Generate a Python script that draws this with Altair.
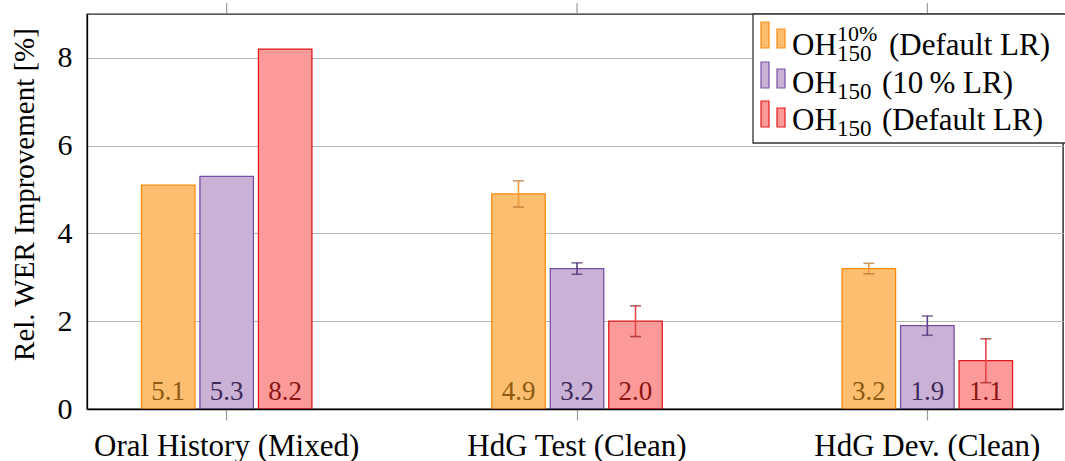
import altair as alt
import pandas as pd

# ---- data -------------------------------------------------------------
groups = ["Oral History (Mixed)", "HdG Test (Clean)", "HdG Dev. (Clean)"]
series = ["OH150 10% (Default LR)", "OH150 (10% LR)", "OH150 (Default LR)"]

improvement = {
    series[0]: [5.1, 4.9, 3.2],
    series[1]: [5.3, 3.2, 1.9],
    series[2]: [8.2, 2.0, 1.1],
}
# half-width of the error bar (no spread reported for the first dataset)
spread = {
    series[0]: [None, 0.30, 0.12],
    series[1]: [None, 0.13, 0.22],
    series[2]: [None, 0.35, 0.50],
}

# ---- styles -----------------------------------------------------------
FONT = "Liberation Serif"
TITLE = "Rel. WER Improvement [%]"
fills = ["#FDBF6F", "#CAB2D6", "#FB9A99"]
strokes = ["#FF8A12", "#7650A6", "#E31A1C"]
err_line = ["#F39A3A", "#5E3F8A", "#E8464A"]
err_cap = ["#B07430", "#4B2F70", "#A11A1A"]
label_col = ["#8E5A10", "#3E2A5C", "#8B1414"]

rows = []
for s in series:
    for g, v, e in zip(groups, improvement[s], spread[s]):
        rows.append({
            "group": g, "series": s, "value": v, "base": 0.0,
            "lo": None if e is None else v - e,
            "hi": None if e is None else v + e,
        })
df = pd.DataFrame(rows)

x_axis = alt.Axis(labelAngle=0, labelFont=FONT, labelFontSize=31,
                  labelLimit=0, labelColor="black", tickColor="#9a9a9a",
                  tickSize=11, tickWidth=1.2, labelBaseline="alphabetic",
                  labelPadding=35, domainColor="black", domainWidth=1.4,
                  zindex=1)
x_scale = alt.Scale(paddingInner=0.5, paddingOuter=0.143, align=0.52)
x_enc = alt.X("group:N", sort=groups, title=None, scale=x_scale, axis=x_axis)
xo = alt.XOffset("series:N", sort=series,
                 scale=alt.Scale(paddingInner=0.0855, paddingOuter=0.04))
y_scale = alt.Scale(domain=[0, 9], nice=False)
y_axis = alt.Axis(values=[0, 2, 4, 6, 8], labelFont=FONT, labelFontSize=30,
                  labelColor="black", ticks=False, labelPadding=15,
                  gridColor="#b8b8b8", gridWidth=1, domainColor="black",
                  domainWidth=1.3, titleFont=FONT, titleFontSize=29,
                  titleFontWeight="normal", titleColor="black",
                  titleAngle=270, titleBaseline="alphabetic",
                  titleX=-54, titleY=180, titleAlign="center")


def y_of(field):
    return alt.Y(f"{field}:Q", scale=y_scale, axis=y_axis, title=TITLE)


base = alt.Chart(df)

bars = base.mark_bar(strokeWidth=1.3).encode(
    x=x_enc, xOffset=xo, y=y_of("value"),
    fill=alt.Fill("series:N", sort=series,
                  scale=alt.Scale(domain=series, range=fills), legend=None),
    stroke=alt.Stroke("series:N", sort=series,
                      scale=alt.Scale(domain=series, range=strokes), legend=None),
)

err = base.transform_filter("isValid(datum.lo)")
err_rule = err.mark_rule(strokeWidth=1.6).encode(
    x=x_enc, xOffset=xo, y=y_of("lo"), y2="hi:Q",
    stroke=alt.Stroke("series:N", sort=series,
                      scale=alt.Scale(domain=series, range=err_line), legend=None),
)
cap_color = alt.Color("series:N", sort=series,
                      scale=alt.Scale(domain=series, range=err_cap), legend=None)
cap_lo = err.mark_tick(size=11, thickness=1.6).encode(
    x=x_enc, xOffset=xo, y=y_of("lo"), color=cap_color)
cap_hi = err.mark_tick(size=11, thickness=1.6).encode(
    x=x_enc, xOffset=xo, y=y_of("hi"), color=cap_color)

labels = base.mark_text(font=FONT, fontSize=27, baseline="alphabetic",
                        dy=-9).encode(
    x=x_enc, xOffset=xo, y=y_of("base"),
    text=alt.Text("value:Q", format=".1f"),
    color=alt.Color("series:N", sort=series,
                    scale=alt.Scale(domain=series, range=label_col), legend=None),
)

# tick marks on the top edge of the frame
top_ticks = alt.Chart(pd.DataFrame({"group": groups})).mark_rule(
    color="#9a9a9a", strokeWidth=1.2).encode(
    x=x_enc, y=alt.value(-11), y2=alt.value(0))

# ---- legend box (top right) -------------------------------------------
one = pd.DataFrame({"k": [0]})
legend = [
    alt.Chart(one).mark_rect(fill="white", stroke="#333333",
                             strokeWidth=1.3).encode(
        x=alt.value(666), x2=alt.value(995), y=alt.value(0), y2=alt.value(129))
]
icon_bottom = [34, 74, 113]
text_base = [41, 79, 116]
tails = ["(Default LR)", "(10\u2009% LR)", "(Default LR)"]
tail_x = [802, 795, 795]
for i in range(3):
    b = icon_bottom[i]
    for x0, h in ((674, 26), (690, 19)):
        legend.append(alt.Chart(one).mark_rect(
            fill=fills[i], stroke=strokes[i], strokeWidth=1.2).encode(
            x=alt.value(x0), x2=alt.value(x0 + 8),
            y=alt.value(b - h), y2=alt.value(b)))
    t = text_base[i]
    common = dict(font=FONT, align="left", baseline="alphabetic", color="black")
    legend.append(alt.Chart(one).mark_text(text="OH", fontSize=31, **common)
                  .encode(x=alt.value(705), y=alt.value(t)))
    legend.append(alt.Chart(one).mark_text(text="150", fontSize=23, **common)
                  .encode(x=alt.value(750), y=alt.value(t + 6)))
    if i == 0:
        legend.append(alt.Chart(one).mark_text(text="10%", fontSize=22, **common)
                      .encode(x=alt.value(750), y=alt.value(t - 14)))
    legend.append(alt.Chart(one).mark_text(text=tails[i], fontSize=31, **common)
                  .encode(x=alt.value(tail_x[i]), y=alt.value(t)))

chart = alt.layer(
    bars, err_rule, cap_lo, cap_hi, labels, top_ticks, *legend
).resolve_scale(
    fill="independent", stroke="independent", color="independent"
).properties(
    width=976, height=395,
    background="white",
    autosize=alt.AutoSizeParams(type="none"),
    padding={"left": 87, "top": 14, "right": 2, "bottom": 52},
).configure_view(
    stroke="#222222", strokeWidth=1.4
)

chart.save("out.html", embed_options={"renderer": "svg", "actions": False})
